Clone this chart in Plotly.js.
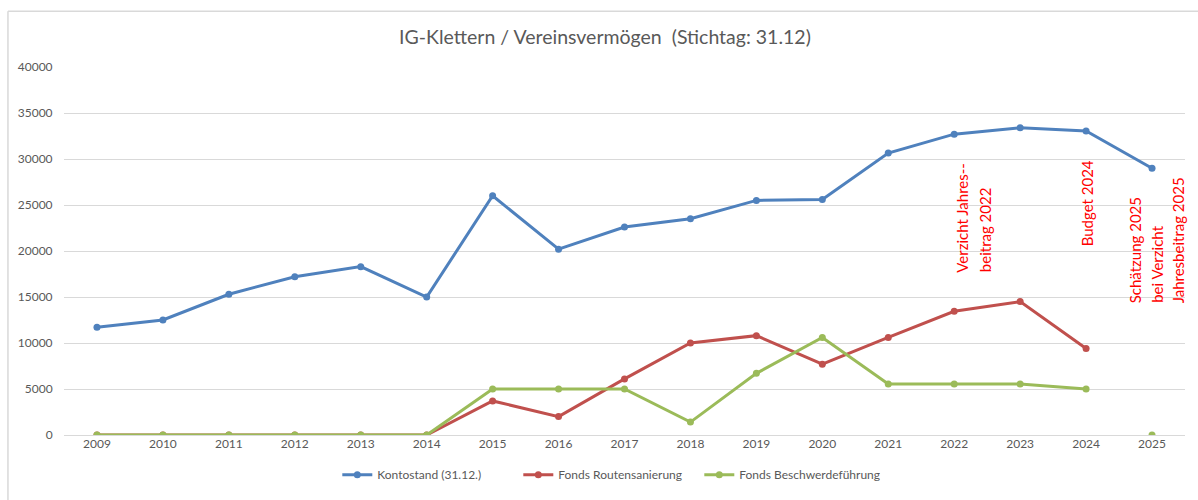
<!DOCTYPE html>
<html>
<head>
<meta charset="utf-8">
<script src="https://cdn.plot.ly/plotly-3.0.1.min.js"></script>
<style>html,body{margin:0;padding:0;background:#fff;}#chart{width:1198px;height:500px;}</style>
</head>
<body>
<div id="chart"></div>
<script>
const years = [2009,2010,2011,2012,2013,2014,2015,2016,2017,2018,2019,2020,2021,2022,2023,2024,2025];
const kontostand = [11700,12500,15300,17200,18300,15000,26000,20200,22600,23500,25500,25600,30650,32700,33400,33050,29000];
const routensanierung = [0,0,0,0,0,0,3700,2000,6100,10000,10800,7700,10600,13450,14500,9400,null];
const beschwerde = [0,0,0,0,0,0,5000,5000,5000,1400,6700,10600,5550,5550,5550,5000,null];
const beschwerde2025Year = [2025];
const beschwerde2025 = [0];
const seriesNames = ['Kontostand (31.12.)','Fonds Routensanierung','Fonds Beschwerdeführung'];
const noteTexts = ['Verzicht Jahres--<br>beitrag 2022','Budget 2024','Schätzung 2025<br>bei Verzicht<br>Jahresbeitrag 2025'];
const noteYears = [2022,2024,2025];
const noteY = [17450,20300,14100];

const font = 'Lato, "Open Sans", sans-serif';
const colors = ['#4f81bd','#c0504d','#9bbb59'];
function tr(x, y, name, color, show){
  return {x: x, y: y, name: name, type:'scatter', mode:'lines+markers', showlegend:show,
    line:{color:color, width:3}, marker:{color:color, size:7}, connectgaps:false};
}
const data = [
  tr(years, kontostand, seriesNames[0], colors[0], true),
  tr(years, routensanierung, seriesNames[1], colors[1], true),
  tr(years, beschwerde, seriesNames[2], colors[2], true),
  tr(beschwerde2025Year, beschwerde2025, seriesNames[2], colors[2], false)
];
const lineShifts = [[8,31],[1],[-17,5,26]];
const annotations = [];
noteTexts.forEach((t,i)=>{
  t.split('<br>').forEach((line,j)=>{
    annotations.push({
      x: noteYears[i], y: noteY[i], xref:'x', yref:'y', text:line, showarrow:false,
      textangle:-90, xanchor:'center', yanchor:'bottom', xshift:lineShifts[i][j],
      font:{family:font, size:15, color:'#ff0000'}
    });
  });
});
const layout = {
  width:1198, height:500,
  margin:{l:64, r:13, t:67, b:64},
  paper_bgcolor:'#fff', plot_bgcolor:'#fff',
  font:{family:font, color:'#595959', size:12},
  title:{text:'IG-Klettern / Vereinsvermögen  (Stichtag: 31.12)', x:0.505, xanchor:'center', y:0.925, yanchor:'middle',
    font:{family:font, size:19.5, color:'#595959'}},
  xaxis:{range:[2008.5,2025.5], tickmode:'array', tickvals:years, ticktext:years.map(String),
    showgrid:false, zeroline:false, showline:false, ticks:'', fixedrange:true,
    tickfont:{size:12, color:'#595959'}},
  yaxis:{range:[0,40000], dtick:5000, tickformat:'d', gridcolor:'#d9d9d9', gridwidth:1,
    zeroline:true, zerolinecolor:'#d9d9d9', zerolinewidth:1, showline:false, ticks:'outside', ticklen:8, tickcolor:'rgba(0,0,0,0)',
    tickfont:{size:12, color:'#595959'}},
  legend:{orientation:'h', x:0.486, xanchor:'center', y:-0.105, yanchor:'middle',
    font:{size:12, color:'#595959'}, itemwidth:30, tracegroupgap:0, entrywidth:136, entrywidthmode:'pixels'},
  showlegend:true,
  annotations: annotations,
  shapes:[
    {type:'line', xref:'paper', yref:'paper', x0:-0.05, x1:1.02, y0:1.1518, y1:1.1518, line:{color:'#d9d9d9', width:1.5}},
    {type:'line', xref:'paper', yref:'paper', x0:-0.05, x1:-0.05, y0:1.1518, y1:-0.2, line:{color:'#d9d9d9', width:1.5}}
  ]
};
Plotly.newPlot('chart', data, layout, {displayModeBar:false, staticPlot:true});
</script>
</body>
</html>
